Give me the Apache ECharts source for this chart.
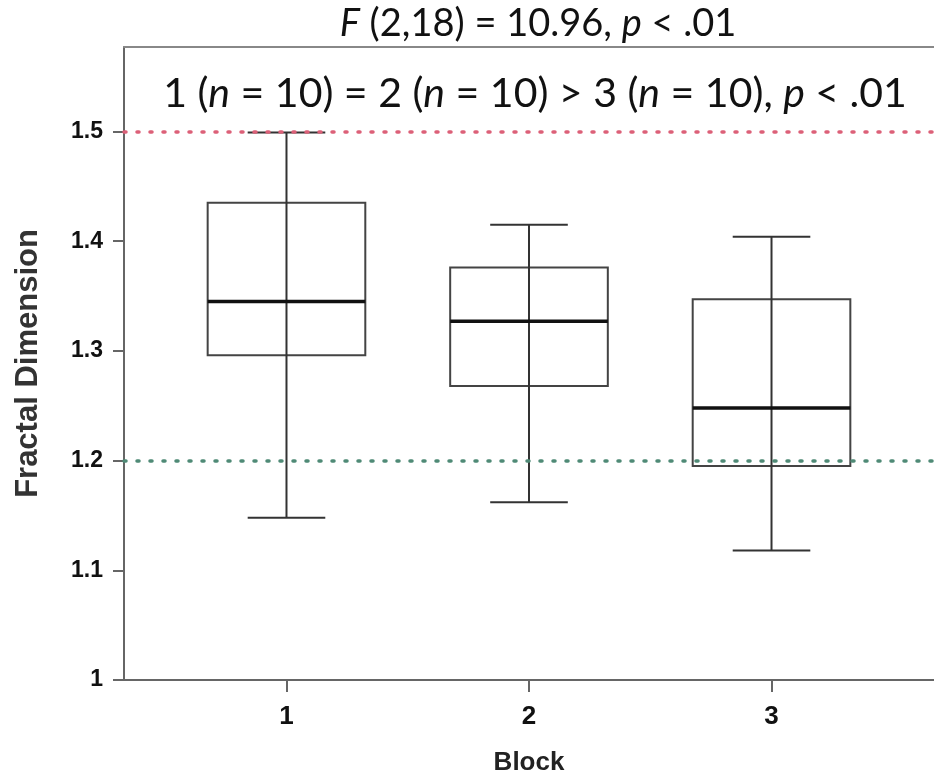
<!DOCTYPE html>
<html>
<head>
<meta charset="utf-8">
<script src="https://cdn.jsdelivr.net/npm/echarts@6/dist/echarts.min.js"></script>
<style>
html,body{margin:0;padding:0;background:#fff;}
#chart{width:934px;height:781px;}
</style>
</head>
<body>
<div id="chart"></div>
<script>
// ---- data ----
const categories = ['1', '2', '3'];
const positions = [1, 2, 3];
const whiskerLow = [1.148, 1.162, 1.118];
const q1 = [1.296, 1.268, 1.195];
const median = [1.345, 1.327, 1.248];
const q3 = [1.435, 1.376, 1.347];
const whiskerHigh = [1.499, 1.415, 1.404];
const upperRef = 1.5;
const lowerRef = 1.2;
const titleLine1 = '{i|F} (2,18) = 10.96, {i|p} < .01';
const titleLine2 = '1 ({i|n} = 10) = 2 ({i|n} = 10) > 3 ({i|n} = 10), {i|p} < .01';

const boxData = positions.map((p, i) => [p, whiskerLow[i], q1[i], median[i], q3[i], whiskerHigh[i]]);

const chart = echarts.init(document.getElementById('chart'));
const BOX_HALF = 0.325, CAP_HALF = 0.16;
const titleFont = 'Lato, "Open Sans", sans-serif';
const axisFont = '"Liberation Sans", Arial, sans-serif';

const option = {
  backgroundColor: '#ffffff',
  animation: false,
  title: [
    {
      text: titleLine1, left: 533, top: 0, textAlign: 'center',
      textStyle: { fontFamily: titleFont, fontSize: 38, fontWeight: 'normal', color: '#111',
        rich: { i: { fontFamily: titleFont, fontSize: 38, fontStyle: 'italic', color: '#111' } } }
    },
    {
      text: titleLine2, left: 530, top: 68, textAlign: 'center',
      textStyle: { fontFamily: titleFont, fontSize: 41, fontWeight: 'normal', color: '#111',
        rich: { i: { fontFamily: titleFont, fontSize: 41, fontStyle: 'italic', color: '#111' } } }
    }
  ],
  grid: { left: 124, right: -3, top: 47, bottom: 98 },
  xAxis: [
    {
      type: 'value', min: 0.33, max: 3.67,
      name: 'Block', nameLocation: 'middle', nameGap: 70,
      nameTextStyle: { fontFamily: axisFont, fontWeight: 'bold', fontSize: 26, color: '#222' },
      splitLine: { show: false },
      axisLine: { show: true, lineStyle: { color: '#666', width: 2 } },
      axisTick: { show: true, customValues: positions, length: 12, lineStyle: { color: '#666', width: 2 } },
      axisLabel: { customValues: positions, margin: 24, fontFamily: axisFont, fontWeight: 'bold', fontSize: 26, color: '#111',
        formatter: v => categories[positions.indexOf(Math.round(v))] }
    },
    {
      type: 'value', position: 'top', min: 0.33, max: 3.67,
      axisLine: { show: true, lineStyle: { color: '#888', width: 2 } },
      axisTick: { show: false }, axisLabel: { show: false }, splitLine: { show: false }
    }
  ],
  yAxis: {
    type: 'value', min: 1, max: 1.577, interval: 0.1,
    name: 'Fractal Dimension', nameLocation: 'middle', nameGap: 80, nameRotate: 90,
    nameTextStyle: { fontFamily: axisFont, fontWeight: 'bold', fontSize: 31, color: '#333' },
    splitLine: { show: false },
    axisLine: { show: true, lineStyle: { color: '#666', width: 2 } },
    axisTick: { show: true, length: 11, lineStyle: { color: '#666', width: 2 } },
    axisLabel: { showMaxLabel: false, margin: 21, fontFamily: axisFont, fontWeight: 'bold', fontSize: 23, color: '#111',
      formatter: v => (Math.abs(v - 1) < 1e-9 ? '1' : v.toFixed(1)) }
  },
  series: [
    {
      type: 'line', data: [], silent: true,
      markLine: {
        silent: true, symbol: 'none', label: { show: false },
        data: [
          { yAxis: upperRef, lineStyle: { color: '#dc6078', type: [2, 11], width: 3.5, cap: 'round' } },
          { yAxis: lowerRef, lineStyle: { color: '#4f8a76', type: [2, 11], width: 3.5, cap: 'round' } }
        ]
      }
    },
    {
      type: 'custom',
      data: boxData,
      renderItem: function (params, api) {
        const x = api.value(0);
        const lo = api.value(1), b1 = api.value(2), md = api.value(3), b3 = api.value(4), hi = api.value(5);
        const pLo = api.coord([x, lo]), pHi = api.coord([x, hi]);
        const bl = api.coord([x - BOX_HALF, b3]), br = api.coord([x + BOX_HALF, b1]);
        const ml = api.coord([x - BOX_HALF, md]), mr = api.coord([x + BOX_HALF, md]);
        const cl = api.coord([x - CAP_HALF, lo]), cr = api.coord([x + CAP_HALF, lo]);
        const tl = api.coord([x - CAP_HALF, hi]), tr = api.coord([x + CAP_HALF, hi]);
        const thin = { stroke: '#333', lineWidth: 2 };
        return {
          type: 'group',
          children: [
            { type: 'rect', shape: { x: bl[0], y: bl[1], width: br[0] - bl[0], height: br[1] - bl[1] },
              style: { fill: 'none', stroke: '#444', lineWidth: 2 } },
            { type: 'line', shape: { x1: pLo[0], y1: pLo[1], x2: pHi[0], y2: pHi[1] }, style: thin },
            { type: 'line', shape: { x1: cl[0], y1: cl[1], x2: cr[0], y2: cr[1] }, style: thin },
            { type: 'line', shape: { x1: tl[0], y1: tl[1], x2: tr[0], y2: tr[1] }, style: thin },
            { type: 'line', shape: { x1: ml[0], y1: ml[1], x2: mr[0], y2: mr[1] }, style: { stroke: '#111', lineWidth: 3.5 } }
          ]
        };
      }
    }
  ]
};
chart.setOption(option);
</script>
</body>
</html>
